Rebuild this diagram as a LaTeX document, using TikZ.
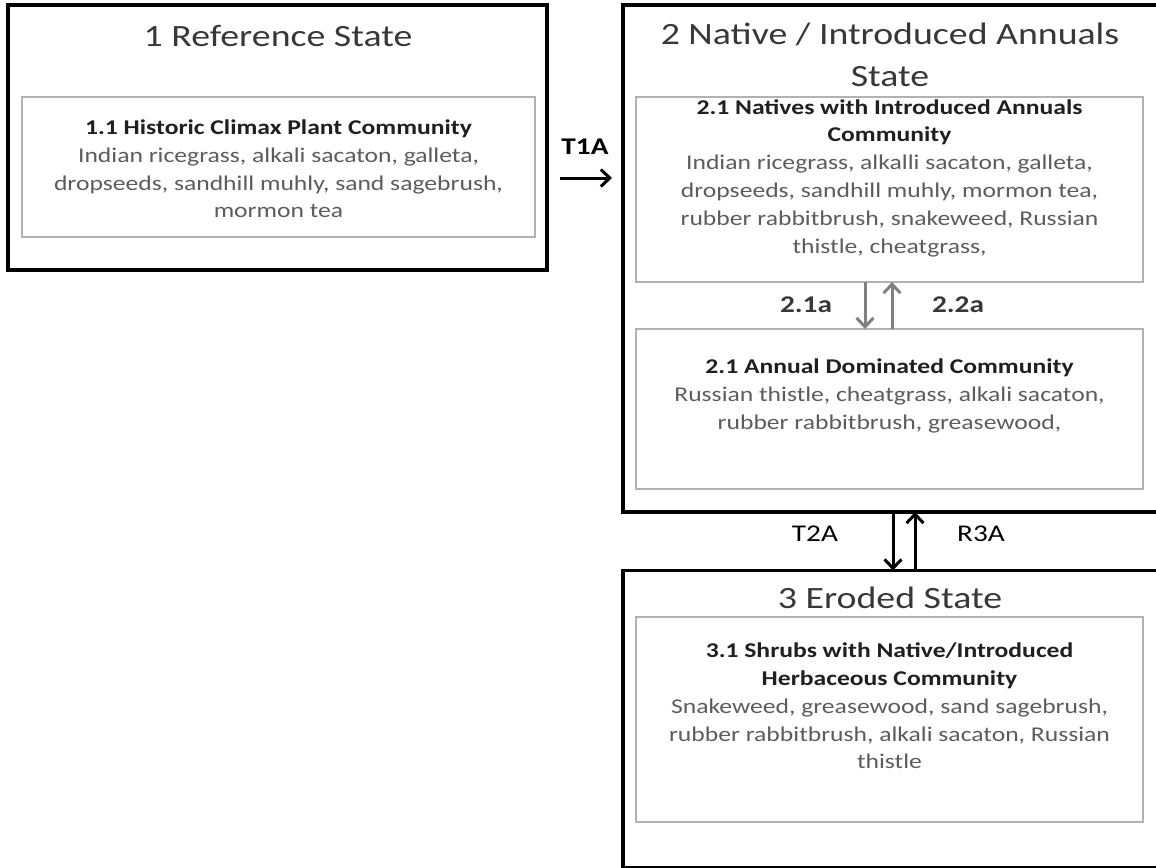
\documentclass[tikz,border=0pt]{standalone}
\usepackage{fontspec}
\setmainfont{Carlito}[FakeStretch=1.22]
\usetikzlibrary{arrows.meta,calc}

\definecolor{titlegray}{gray}{0.22}
\definecolor{headgray}{gray}{0.12}
\definecolor{listgray}{gray}{0.36}
\definecolor{framegray}{gray}{0.70}
\definecolor{arrowgray}{gray}{0.50}

\begin{document}
\begin{tikzpicture}[x=1pt,y=-1pt,
  statebox/.style={draw=black,line width=3.5pt,inner sep=0pt,outer sep=0pt},
  communitybox/.style={draw=framegray,line width=2.5pt,inner sep=0pt,outer sep=0pt},
  statetitle/.style={font=\fontsize{31}{42}\selectfont,text=titlegray,align=center,inner sep=0pt},
  communitytext/.style={font=\fontsize{21}{27.8}\selectfont,text=listgray,align=center,inner sep=0pt},
  translabel/.style={font=\fontsize{24}{28}\selectfont,text=black,inner sep=0pt},
  phaselabel/.style={font=\fontsize{24}{28}\selectfont\bfseries,text=titlegray,inner sep=0pt},
  transarrow/.style={line width=3pt,black,-{Straight Barb[length=9pt,width=17pt,line width=3pt]}},
  phasearrow/.style={line width=3pt,arrowgray,-{Straight Barb[length=9pt,width=17pt,line width=3pt]}}
]
\useasboundingbox (0,0) rectangle (1156,867);
\clip (0,0) rectangle (1156,867);

% state frames
\node[statebox,minimum width=539pt,minimum height=265pt] (s1) at (277.5,137.5) {};
\node[statebox,minimum width=547pt,minimum height=507pt] (s2) at (896.5,258.5) {};
\node[statebox,minimum width=547pt,minimum height=297pt] (s3) at (896.5,719) {};

% community frames
\node[communitybox,minimum width=513pt,minimum height=140pt] (c11) at (278.5,167) {};
\node[communitybox,minimum width=507pt,minimum height=185pt] (c21) at (889.5,189.5) {};
\node[communitybox,minimum width=507pt,minimum height=160pt] (c22) at (889.5,409) {};
\node[communitybox,minimum width=507pt,minimum height=205pt] (c31) at (889.5,719.5) {};

% state titles
\node[statetitle] (t1) at (278,36) {1 Reference State};
\node[statetitle] (t2) at (890,55) {2 Native / Introduced Annuals\\State};
\node[statetitle] (t3) at (890,598) {3 Eroded State};

% community descriptions
\node[communitytext] (d11) at (278.5,169) {%
  {\bfseries\color{headgray}1.1 Historic Climax Plant Community}\\
  Indian ricegrass, alkali sacaton, galleta,\\
  dropseeds, sandhill muhly, sand sagebrush,\\
  mormon tea};
\node[communitytext] (d21) at (889.5,178) {%
  {\bfseries\color{headgray}2.1 Natives with Introduced Annuals}\\
  {\bfseries\color{headgray}Community}\\
  Indian ricegrass, alkalli sacaton, galleta,\\
  dropseeds, sandhill muhly, mormon tea,\\
  rubber rabbitbrush, snakeweed, Russian\\
  thistle, cheatgrass,};
\node[communitytext] (d22) at (889.5,396) {%
  {\bfseries\color{headgray}2.1 Annual Dominated Community}\\
  Russian thistle, cheatgrass, alkali sacaton,\\
  rubber rabbitbrush, greasewood,};
\node[communitytext] (d31) at (889.5,706) {%
  {\bfseries\color{headgray}3.1 Shrubs with Native/Introduced}\\
  {\bfseries\color{headgray}Herbaceous Community}\\
  Snakeweed, greasewood, sand sagebrush,\\
  rubber rabbitbrush, alkali sacaton, Russian\\
  thistle};

% transitions between states
\draw[transarrow,shorten <=13pt,shorten >=11pt] ($(s1.east)+(0,40.5)$) -- ($(s2.west)+(0,-80.5)$);
\node[phaselabel,text=black] (l1) at (585,147) {T1A};

\draw[transarrow] ($(s2.south)+(-3.5,0)$) -- ($(s3.north)+(-3.5,0)$);
\draw[transarrow] ($(s3.north)+(18.5,0)$) -- ($(s2.south)+(18.5,0)$);
\node[translabel] (l2) at (815,534) {T2A};
\node[translabel] (l3) at (981,534) {R3A};

% pathways between community phases
\draw[phasearrow] ($(c21.south)+(-24.5,0)$) -- ($(c22.north)+(-24.5,0)$);
\draw[phasearrow] ($(c22.north)+(2.5,0)$) -- ($(c21.south)+(2.5,0)$);
\node[phaselabel] (p1) at (806,305) {2.1a};
\node[phaselabel] (p2) at (958,305) {2.2a};
\end{tikzpicture}
\end{document}
